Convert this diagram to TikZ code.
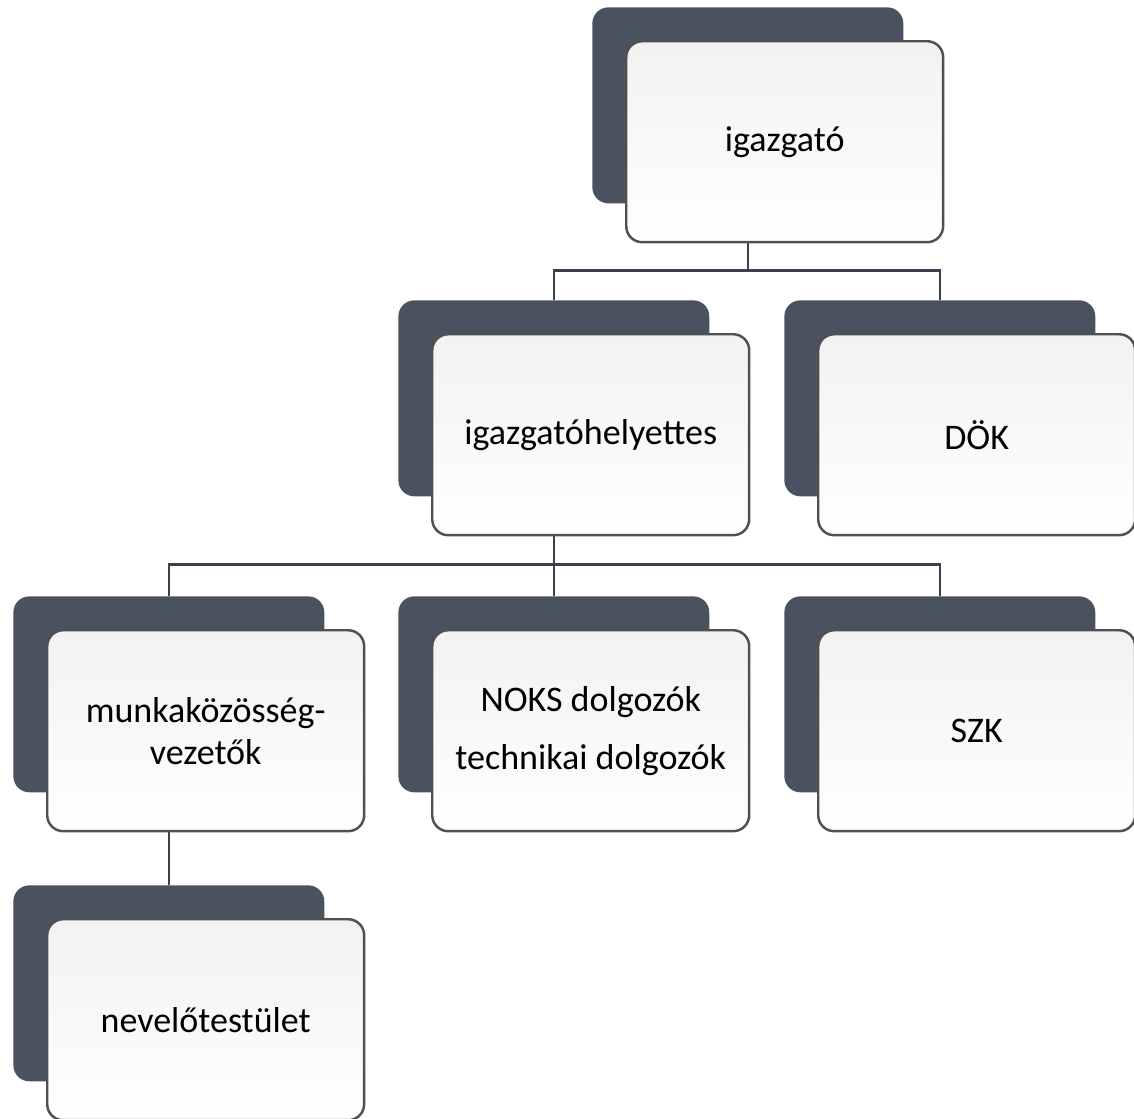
\documentclass[tikz,border=0pt]{standalone}
\usepackage{fontspec}
\setmainfont{Carlito}
\usetikzlibrary{calc}
\usetikzlibrary{positioning}
\usetikzlibrary{backgrounds}
\definecolor{slate}{RGB}{74,81,95}
\definecolor{cardgray}{RGB}{242,242,242}
\definecolor{rim}{RGB}{80,80,84}
\definecolor{wirecol}{RGB}{58,64,76}
\tikzset{
	back/.style={fill=slate, rounded corners=0.32cm, minimum width=6.22cm, minimum height=3.92cm, anchor=north west, inner sep=0pt},
	card/.style={draw=rim, line width=1.4pt, top color=cardgray, bottom color=white, rounded corners=0.32cm, minimum width=6.34cm, minimum height=4.02cm, anchor=north west, align=center, font=\fontsize{20.5}{24}\selectfont},
	wire/.style={draw=wirecol, line width=1.4pt}
}
\begin{document}
\begin{tikzpicture}[x=0.02cm,y=-0.02cm]
		\useasboundingbox (0,0) rectangle (1134,1119);
		\node[back](igazgatoback) at (592,7){};
		\node[card](igazgato) at ($(igazgatoback.north west)+(33,33)$){igazgató};
		\node[back](helyettesback) at (398,300){};
		\node[card](helyettes) at ($(helyettesback.north west)+(33,33)$){igazgatóhelyettes};
		\node[back](dokback) at (784,300){};
		\node[card](dok) at ($(dokback.north west)+(33,33)$){DÖK};
		\node[back](munkaback) at (13,596){};
		\node[card](munka) at ($(munkaback.north west)+(33,33)$){munkaközösség-\\vezetők};
		\node[back](noksback) at (398,596){};
		\node[card](noks) at ($(noksback.north west)+(33,33)$){NOKS dolgozók\\[9pt]technikai dolgozók};
		\node[back](szkback) at (784,596){};
		\node[card](szk) at ($(szkback.north west)+(33,33)$){SZK};
		\node[back](neveloback) at (13,885){};
		\node[card](nevelo) at ($(neveloback.north west)+(33,33)$){nevelőtestület};
		\begin{scope}[on background layer]
			\coordinate (bus1) at ($(igazgatoback.south)+(0,67)$);
			\coordinate (bus2) at ($(helyettesback.south)+(0,68)$);
			\draw[wire] (igazgatoback) -- (bus1) -| (helyettesback.north);
			\draw[wire] (bus1) -| (dokback.north);
			\draw[wire] (helyettesback) -- (bus2) -| (munkaback.north);
			\draw[wire] (bus2) -- (noksback.north);
			\draw[wire] (bus2) -| (szkback.north);
			\draw[wire] (munkaback) -- (neveloback);
		\end{scope}
	\end{tikzpicture}
\end{document}
